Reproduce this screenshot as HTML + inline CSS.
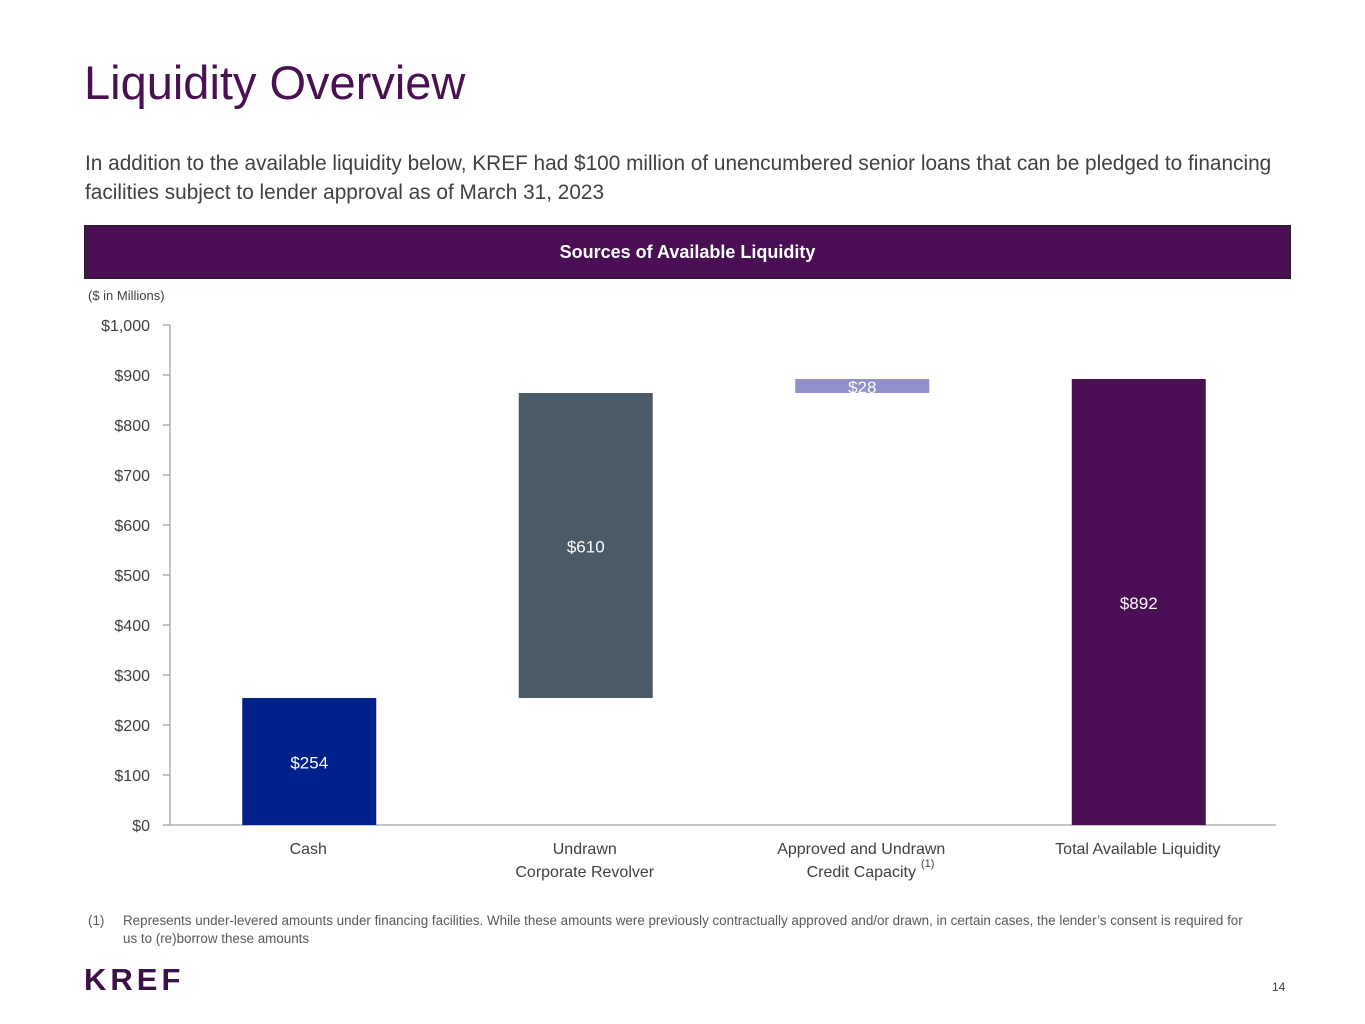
<!DOCTYPE html>
<html><head><meta charset="utf-8"><style>
body{margin:0;width:1365px;height:1024px;background:#fff;font-family:"Liberation Sans",sans-serif;position:relative;overflow:hidden}
.abs{position:absolute}
</style></head><body>
<div class="abs" style="left:84px;top:55px;font-size:47px;color:#4a1152">Liquidity Overview</div>
<div class="abs" style="left:85px;top:149px;font-size:20.8px;line-height:29px;color:#404040;width:1260px;white-space:nowrap">In addition to the available liquidity below, KREF had $100 million of unencumbered senior loans that can be pledged to financing<br>facilities subject to lender approval as of March 31, 2023</div>
<div class="abs" style="left:84px;top:225px;width:1205px;height:52px;background:#4a0e54;border:1px solid #222;color:#fff;font-weight:bold;font-size:18px;line-height:52px;text-align:center">Sources of Available Liquidity</div>
<div class="abs" style="left:88px;top:288px;font-size:13px;color:#404040">($ in Millions)</div>
<svg class="abs" style="left:0;top:0" width="1365" height="1024" id="chart"></svg>
<div class="abs" style="left:88px;top:912px;font-size:13.4px;line-height:18px;color:#595959;width:1250px;white-space:nowrap"><span style="position:absolute;left:0">(1)</span><div style="margin-left:35px">Represents under-levered amounts under financing facilities. While these amounts were previously contractually approved and/or drawn, in certain cases, the lender’s consent is required for<br>us to (re)borrow these amounts</div></div>
<div class="abs" style="left:84px;top:962px;font-size:31px;font-weight:bold;letter-spacing:4px;color:#3a1245">KREF</div>
<div class="abs" style="left:1272px;top:980px;font-size:12px;color:#404040">14</div>
<script>
const categories=["Cash","Undrawn|Corporate Revolver","Approved and Undrawn|Credit Capacity","Total Available Liquidity"];
const values=[254,610,28,892];
const isTotal=[false,false,false,true];
const colors=["#00208a","#4a5a66","#8f90cc","#4a0e54"];
const ticks=[0,100,200,300,400,500,600,700,800,900,1000];
const tickLabels=["$0","$100","$200","$300","$400","$500","$600","$700","$800","$900","$1,000"];
const svg=document.getElementById('chart');const NS="http://www.w3.org/2000/svg";
const x0=170,x1=1276,y0=825,y1=325;
const y=v=>y0-(v/1000)*(y0-y1);
const band=(x1-x0)/categories.length;
const cx=i=>x0+band*(i+0.5);
function mk(t,a,p){const e=document.createElementNS(NS,t);for(const k in a)e.setAttribute(k,a[k]);(p||svg).appendChild(e);return e;}
let e=mk('line',{x1:x0,y1:y1,x2:x0,y2:y0,stroke:'#888'});


e=mk('line',{x1:x0,y1:y0,x2:x1,y2:y0,stroke:'#888'});


ticks.forEach((t,i)=>{
 let l=mk('line',{x1:x0-7,y1:y(t),x2:x0,y2:y(t),stroke:'#888'});
 
 
 let tx=mk('text',{x:x0-20,y:y(t)+6,'text-anchor':'end','font-size':16,fill:'#404040'});
 tx.textContent=tickLabels[i];
 
 
});
let cum=0;
values.forEach((v,i)=>{
 let base=isTotal[i]?0:cum;let top=isTotal[i]?v:cum+v;
 if(!isTotal[i])cum+=v;
 const w=134;
 let r=mk('rect',{x:cx(i)-w/2+1,y:y(top),width:w,height:y(base)-y(top),fill:colors[i]});
 
 
 let t=mk('text',{x:cx(i)+1,y:(y(base)+y(top))/2+7,'text-anchor':'middle','font-size':17,fill:'#fff'});
 t.textContent='$'+v;
 
 
 categories[i].split('|').forEach((s,j)=>{
  let c=mk('text',{x:cx(i),y:854+j*23,'text-anchor':'middle','font-size':16,fill:'#404040'});
  c.textContent=s;
  
  
 });
});
let sup=mk('text',{x:921,y:867,'font-size':11,fill:'#404040'});
sup.textContent='(1)';


</script>
</body></html>
